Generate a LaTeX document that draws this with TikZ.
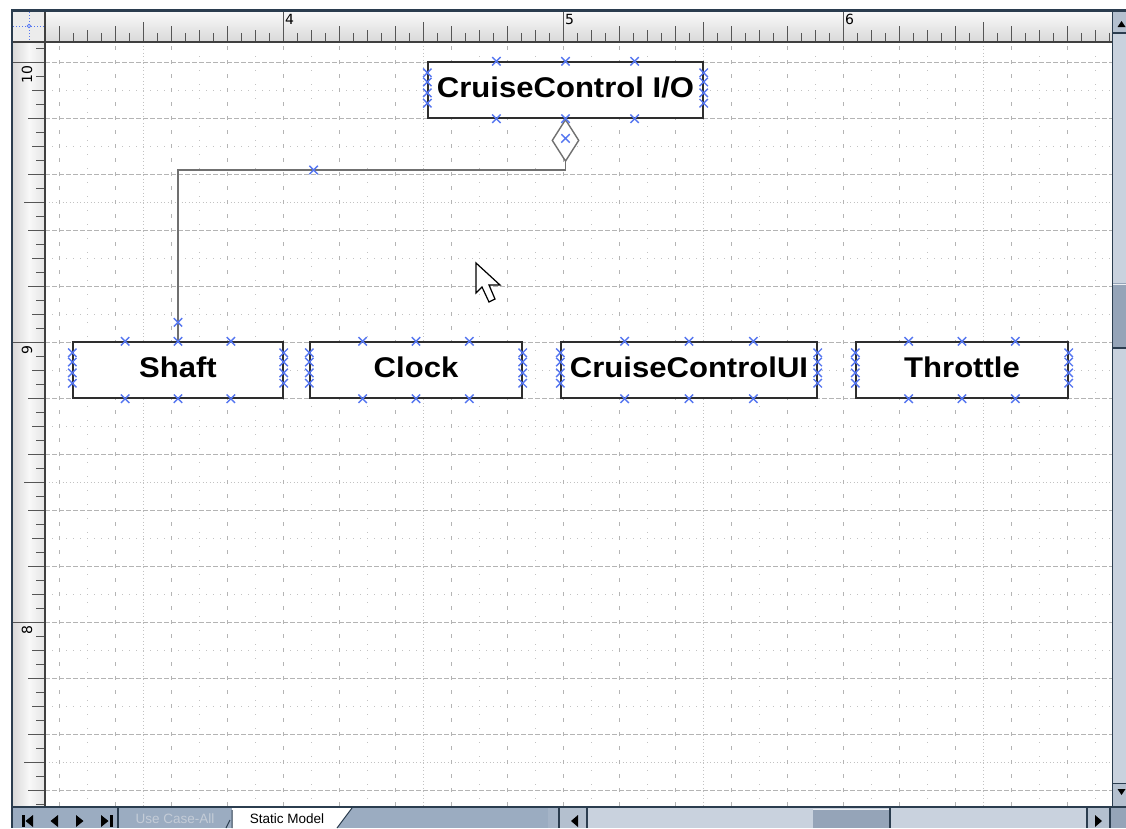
\documentclass[tikz,border=0pt]{standalone}
\usepackage{fontspec}
\setmainfont{Liberation Sans}
\newfontfamily\boxfont[FakeStretch=1.09]{Liberation Sans}
\newfontfamily\rulerfont{DejaVu Sans}
\usetikzlibrary{shapes.geometric,calc}

\definecolor{frame}{HTML}{2B3D4F}
\definecolor{rulerhi}{HTML}{F8F8F8}
\definecolor{rulerlo}{HTML}{D9D9D9}
\definecolor{tickcol}{HTML}{555555}
\definecolor{gridmaj}{HTML}{B4B4B4}
\definecolor{gridmin}{HTML}{C2C2C2}
\definecolor{boxline}{HTML}{2E2E2E}
\definecolor{connline}{HTML}{707070}
\definecolor{handle}{HTML}{5576F0}
\definecolor{scrollbg}{HTML}{C9D2DE}
\definecolor{scrollbtn}{HTML}{B4C0CF}
\definecolor{thumb}{HTML}{95A4B8}
\definecolor{tabbar}{HTML}{9BACC1}
\definecolor{tabfaded}{HTML}{C4CCD7}

\tikzset{
  cls/.style={draw=boxline, fill=white, line width=1.4pt, minimum height=56pt,
    inner sep=0pt, text height=14pt, text depth=0pt,
    font=\boxfont\bfseries\fontsize{28.5}{30}\selectfont},
  aggshape/.style={diamond, draw=connline, fill=white, line width=1.4pt,
    minimum width=27pt, minimum height=42pt, inner sep=0pt},
  conn/.style={draw=connline, line width=1.9pt},
  markx/.style={draw=handle, line width=1.4pt},
  cx/.pic={\draw[markx] (-4.2,-4.2) -- (4.2,4.2) (-4.2,4.2) -- (4.2,-4.2);},
  tick/.style={draw=tickcol, line width=0.9pt},
  rlab/.style={font=\rulerfont\fontsize{14}{14}\selectfont, text=black, inner sep=0pt},
  gmajh/.style={draw=gridmaj, line width=0.9pt, dash pattern=on 5pt off 2pt},
  gmajv/.style={draw=gridmaj, line width=0.9pt, dash pattern=on 4pt off 10pt, dash phase=10pt},
  gminh/.style={draw=gridmin, line width=1pt, dash pattern=on 1.2pt off 5.8pt},
  gminv/.style={draw=gridmin, line width=1pt, dash pattern=on 1.2pt off 12.8pt},
  ghalf/.style={draw=gridmin, line width=1pt, dash pattern=on 1.2pt off 2.3pt},
  tablabel/.style={font=\fontsize{13.5}{14}\selectfont, inner sep=0pt},
  navtri/.style={fill=black},
}

% connection handles on the four sides of a class box
\newcommand\handles[1]{%
  \foreach \f in {0.25,0.5,0.75}{%
    \pic at ($(#1.north west)!\f!(#1.north east)$) {cx};
    \pic at ($(#1.south west)!\f!(#1.south east)$) {cx};
  }%
  \foreach \f in {0.2,0.36,0.55,0.73}{%
    \pic at ($(#1.north west)!\f!(#1.south west)$) {cx};
    \pic at ($(#1.north east)!\f!(#1.south east)$) {cx};
  }%
}

\begin{document}
\begin{tikzpicture}[x=1pt,y=-1pt]
\useasboundingbox (0,0) rectangle (1126,828);
\fill[white] (0,0) rectangle (1126,828);

% ---------- drawing page grid ----------
\begin{scope}
  \clip (45,42) rectangle (1112,806);
  \foreach \x in {87,143,...,1095} \draw[gminv] (\x,42) -- (\x,806);
  \foreach \y in {90,146,...,762} \draw[gminh] (45,\y) -- (1112,\y);
  \foreach \x in {143,423,703,983} \draw[ghalf] (\x,42) -- (\x,806);
  \foreach \y in {202,482,762} \draw[ghalf] (45,\y) -- (1112,\y);
  \foreach \x in {59,115,...,1067} \draw[gmajv] (\x,42) -- (\x,806);
  \foreach \y in {62,118,...,790} \draw[gmajh] (45,\y) -- (1112,\y);
\end{scope}

% ---------- rulers ----------
\shade[top color=rulerhi, bottom color=rulerlo] (13,12) rectangle (1112,42);
\shade[left color=rulerlo, right color=rulerlo!70!white, middle color=rulerhi] (13,42) rectangle (45,806);
\foreach \k in {-17,...,59}{
  \pgfmathsetmacro\xx{283+14*\k}
  \pgfmathsetmacro\tk{ifthenelse(mod(abs(\k),20)==0,12,ifthenelse(mod(abs(\k),10)==0,22,ifthenelse(mod(abs(\k),4)==0,26,ifthenelse(mod(abs(\k),2)==0,30,33))))}
  \draw[tick] (\xx,\tk) -- (\xx,42);
}
\foreach \k in {-1,...,53}{
  \pgfmathsetmacro\yy{62+14*\k}
  \pgfmathsetmacro\tk{ifthenelse(mod(abs(\k),20)==0,13,ifthenelse(mod(abs(\k),10)==0,24,ifthenelse(mod(abs(\k),4)==0,28,ifthenelse(mod(abs(\k),2)==0,32,36))))}
  \draw[tick] (\tk,\yy) -- (45,\yy);
}
\node[rlab, anchor=north west] (r4) at (285,14) {4};
\node[rlab, anchor=north west] (r5) at (565,14) {5};
\node[rlab, anchor=north west] (r6) at (845,14) {6};
\node[rlab, rotate=90, anchor=east] (r10) at (27,65) {10};
\node[rlab, rotate=90, anchor=east] (r9) at (27,345) {9};
\node[rlab, rotate=90, anchor=east] (r8) at (27,625) {8};
% ruler corner with origin crosshair
\fill[rulerhi!60!rulerlo] (13,12) rectangle (45,42);
\draw[handle, line width=1pt, dotted] (29,12) -- (29,42) (13,26) -- (45,26);
\draw[handle, line width=0.8pt, fill=white] (29,26) circle (1.8);
\draw[black!75, line width=1.5pt] (13,42) -- (1112,42);
\draw[black!75, line width=1.5pt] (45,12) -- (45,806);

% ---------- window frame ----------
\fill[frame] (11,9) rectangle (1126,12);
\fill[frame] (11,9) rectangle (13,828);

% ---------- vertical scroll bar ----------
\fill[scrollbg] (1112,12) rectangle (1126,807);
\draw[frame, line width=1pt] (1112.5,12) -- (1112.5,807);
\fill[scrollbtn] (1113,12) rectangle (1126,33);
\draw[frame, line width=1.5pt] (1113,33) -- (1126,33);
\fill[black] (1117.5,27) -- (1125.5,27) -- (1121.5,21) -- cycle;
\fill[thumb] (1113,283) rectangle (1126,348);
\draw[white!80!thumb, line width=1pt] (1113,284) -- (1126,284);
\draw[frame, line width=1.5pt] (1113,348) -- (1126,348);
\fill[scrollbtn] (1113,783) rectangle (1126,806);
\draw[frame, line width=1pt] (1113,783) -- (1126,783);
\fill[black] (1117.5,789) -- (1125.5,789) -- (1121.5,795) -- cycle;

% ---------- sheet tabs and horizontal scroll bar ----------
\fill[tabbar] (13,807) rectangle (558,828);
\draw[frame, line width=1.5pt] (13,807) -- (1126,807);
\fill[black] (22,815) rectangle (24.5,827);
\fill[navtri] (33,815) -- (33,827) -- (25.5,821) -- cycle;
\fill[navtri] (58,815) -- (58,827) -- (50.5,821) -- cycle;
\fill[navtri] (76,815) -- (76,827) -- (83.5,821) -- cycle;
\fill[navtri] (101,815) -- (101,827) -- (108.5,821) -- cycle;
\fill[black] (110,815) rectangle (112.5,827);
\draw[frame, line width=1.2pt] (118,808) -- (118,828);
\node[tablabel, text=tabfaded] (tab1) at (175,819) {Use Case-All};
\draw[frame, line width=1pt] (226,828) -- (230,820);
\fill[white] (232,808) -- (352,808) -- (337,828) -- (232,828) -- cycle;
\draw[frame, line width=1pt] (232,828) -- (232,810) (352,808) -- (337,828);
\node[tablabel, text=black] (tab2) at (287,819) {Static Model};

\fill[scrollbg] (558,808) rectangle (1112,828);
\fill[tabbar!90!white] (548,808) rectangle (558,828);
\draw[frame, line width=1.2pt] (559,808) -- (559,828);
\fill[scrollbtn] (560,808) rectangle (587,828);
\draw[frame, line width=1.2pt] (587,808) -- (587,828);
\fill[black] (578,815) -- (578,827) -- (571,821) -- cycle;
\fill[thumb] (813,809) rectangle (890,828);
\draw[white!80!thumb, line width=1pt] (813,809.5) -- (890,809.5);
\draw[frame, line width=1.5pt] (890,808) -- (890,828);
\fill[scrollbtn] (1087,808) rectangle (1110,828);
\draw[frame, line width=1.2pt] (1087,808) -- (1087,828);
\fill[black] (1095,815) -- (1095,827) -- (1102,821) -- cycle;
\fill[thumb] (1110,808) rectangle (1126,828);
\draw[frame, line width=1.5pt] (1110,808) -- (1110,828);

% ---------- class diagram ----------
\node[cls, minimum width=275pt] (io) at (565.5,90) {CruiseControl I/O};
\node[cls, minimum width=210pt] (shaft) at (178,370) {Shaft};
\node[cls, minimum width=212pt] (clock) at (416,370) {Clock};
\node[cls, minimum width=256pt] (ccui) at (689,370) {CruiseControlUI};
\node[cls, minimum width=212pt] (throttle) at (962,370) {Throttle};

\node[aggshape, anchor=north] (agg) at (io.south) {};
\coordinate (lvl) at (0,170);
\draw[conn] (agg.south) -- (agg.south |- lvl) -| (shaft.north);

\handles{io}
\handles{shaft}
\handles{clock}
\handles{ccui}
\handles{throttle}
\pic at ($(agg.center)+(0,-2)$) {cx};
\pic at ($(agg.south |- lvl)!0.65!(shaft.north |- lvl)$) {cx};
\pic at ($(shaft.north)+(0,-19)$) {cx};

% ---------- mouse pointer ----------
\begin{scope}[shift={(476,263)}]
  \filldraw[fill=white, draw=black, line width=1.2pt, line join=miter]
    (0,0) -- (0,30) -- (6,24) -- (13,39) -- (19,36) -- (13,22) -- (24,22) -- cycle;
\end{scope}
\end{tikzpicture}
\end{document}
